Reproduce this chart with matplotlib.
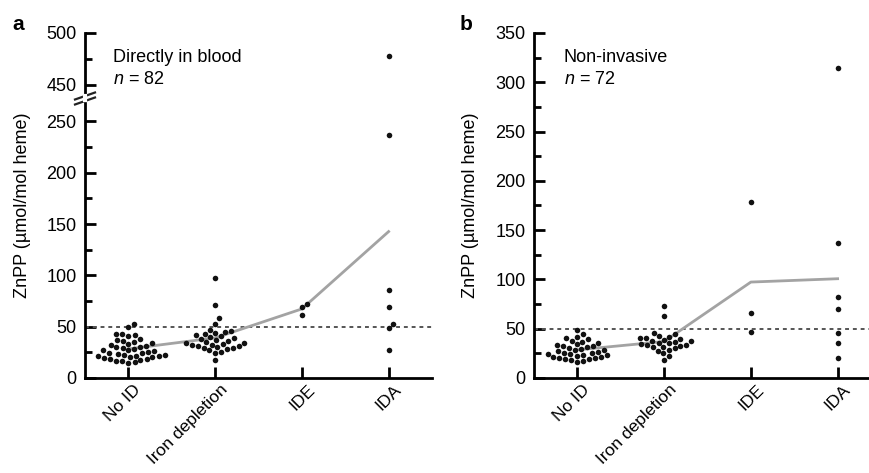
import numpy as np
import matplotlib
matplotlib.use("Agg")
import matplotlib.pyplot as plt
from matplotlib.lines import Line2D
from matplotlib.transforms import ScaledTranslation

plt.rcParams["font.family"] = ["Liberation Sans", "DejaVu Sans"]
plt.rcParams["mathtext.fontset"] = "custom"
plt.rcParams["mathtext.it"] = "Liberation Sans:italic"
plt.rcParams["mathtext.rm"] = "Liberation Sans"

categories = ["No ID", "Iron depletion", "IDE", "IDA"]

# ZnPP measured directly in blood (n = 82)
blood_no_id = [52.5, 50.0, 43.0, 42.5, 41.8, 41.0, 38.2, 37.0, 36.1, 35.4, 34.0, 33.2, 32.5,
               31.4, 30.6, 29.8, 29.0, 28.4, 27.6, 27.0, 26.2, 25.5, 24.8, 24.0, 23.2, 22.6,
               22.2, 21.9, 21.6, 21.2, 20.8, 20.4, 19.8, 19.0, 18.2, 17.5, 17.0, 16.4, 15.8,
               15.0]
blood_iron_depletion = [97.0, 71.0, 58.0, 53.0, 47.0, 45.8, 45.0, 43.8, 42.6, 41.8, 40.8, 40.0,
                        38.9, 38.0, 37.1, 36.2, 35.2, 34.4, 33.8, 33.2, 32.6, 32.0, 31.4, 30.8,
                        30.2, 29.6, 29.0, 28.0, 27.0, 25.0, 24.6, 18.0]
blood_ide = [72, 61, 69]
blood_ida = [478, 237, 86, 69, 49, 53, 27]

# ZnPP measured non-invasively (n = 72)
noninv_no_id = [49.0, 45.0, 42.0, 40.4, 39.2, 38.0, 36.4, 35.2, 34.2, 33.4, 32.8, 32.0, 31.0,
                30.2, 29.4, 28.6, 28.0, 27.2, 26.4, 25.8, 25.2, 24.6, 24.0, 23.4, 23.0, 22.4,
                21.8, 21.2, 20.6, 20.0, 19.4, 18.8, 18.0, 17.0, 16.0]
noninv_iron_depletion = [73.0, 63.0, 46.0, 44.2, 43.0, 42.0, 41.0, 40.4, 39.6, 38.8, 38.0, 37.2,
                         36.4, 35.6, 35.0, 34.2, 33.6, 33.0, 32.4, 31.8, 31.0, 30.0, 28.4, 27.0,
                         25.0, 22.0, 18.0]
noninv_ide = [179, 66, 47]
noninv_ida = [314, 137, 82, 70, 46, 36, 20]

cutoff = 50

W, H = 870, 473
fig = plt.figure(figsize=(W / 100, H / 100), dpi=100)


def px_rect(left, top, right, bottom):
    return [left / W, 1 - bottom / H, (right - left) / W, (bottom - top) / H]


def fx(x):
    return x / W


def fy(y):
    return 1 - y / H


SPINE_LW = 2.0
POINT_COLOR = "#111111"
MEAN_COLOR = "#a3a3a3"
DASH_COLOR = "#555555"
FS = 13
XFS = 12.5


def style_axes(ax, bottom=True):
    for side in ("top", "right"):
        ax.spines[side].set_visible(False)
    ax.spines["left"].set_linewidth(SPINE_LW)
    ax.spines["bottom"].set_linewidth(SPINE_LW)
    if not bottom:
        ax.spines["bottom"].set_visible(False)
    ax.tick_params(axis="y", which="major", direction="in", length=8, width=SPINE_LW,
                   labelsize=FS, pad=6)
    ax.tick_params(axis="y", which="minor", direction="in", length=5, width=SPINE_LW)
    ax.tick_params(axis="x", which="major", direction="in", length=8, width=SPINE_LW,
                   labelsize=XFS, pad=3)
    ax.set_xlim(-0.5, 3.5)
    ax.patch.set_alpha(0)


def set_category_labels(ax):
    ax.set_xticks(range(len(categories)))
    ax.set_xticklabels(categories, rotation=45, ha="right", va="top", rotation_mode="anchor")
    shift = ScaledTranslation(5 / 100, 0, fig.dpi_scale_trans)
    for lab in ax.get_xticklabels():
        lab.set_transform(lab.get_transform() + shift)


def swarm_x(ax, center, values, d=6.2):
    """Beeswarm layout computed in display pixels, returned in data x."""
    values = np.asarray(values, dtype=float)
    n = len(values)
    pts = ax.transData.transform(np.column_stack([np.full(n, center), values]))
    y = pts[:, 1]
    x_unit = (ax.transData.transform([[center + 1, 0]])[0, 0]
              - ax.transData.transform([[center, 0]])[0, 0])
    placed = []
    xs = np.zeros(n)
    for i in np.argsort(y):
        cands = [0.0]
        for px, py in placed:
            dy = y[i] - py
            if abs(dy) < d:
                dx = np.sqrt(d * d - dy * dy)
                cands += [px + dx, px - dx]
        cands.sort(key=abs)
        for c in cands:
            if all((c - px) ** 2 + (y[i] - py) ** 2 >= d * d - 1e-6 for px, py in placed):
                break
        placed.append((c, y[i]))
        xs[i] = c
    return center + xs / x_unit


def draw_groups(ax_list, groups, val_ranges):
    # each point goes to the axes whose y-range contains it
    for k, vals in enumerate(groups):
        vals = np.asarray(vals, dtype=float)
        for ax, (lo, hi) in zip(ax_list, val_ranges):
            sel = (vals >= lo) & (vals <= hi)
            if sel.any():
                xs = swarm_x(ax, k, vals[sel])
                ax.scatter(xs, vals[sel], s=16, color=POINT_COLOR, linewidths=0, zorder=4,
                           clip_on=False)


# ---------------- panel a: broken y axis ----------------
ax_lo = fig.add_axes(px_rect(85, 103, 432, 378))
ax_hi = fig.add_axes(px_rect(85, 33, 432, 95))
ax_lo.set_ylim(0, 268)
ax_hi.set_ylim(440, 500)
style_axes(ax_lo)
style_axes(ax_hi, bottom=False)
ax_lo.set_yticks(np.arange(0, 251, 50))
ax_lo.set_yticks(np.arange(25, 251, 50), minor=True)
ax_hi.set_yticks([450, 500])
ax_hi.set_yticks([475], minor=True)
ax_hi.set_xticks([])
set_category_labels(ax_lo)

groups_a = [blood_no_id, blood_iron_depletion, blood_ide, blood_ida]
draw_groups([ax_lo, ax_hi], groups_a, [(0, 268), (440, 500)])
ax_lo.plot(range(4), [np.mean(g) for g in groups_a], color=MEAN_COLOR, lw=2, zorder=3)
ax_lo.axhline(cutoff, color=DASH_COLOR, lw=1.4, ls=(0, (2, 2)), zorder=2)

fig.text(fx(113), fy(62), "Directly in blood", fontsize=FS, va="baseline")
fig.text(fx(113), fy(83.5), "$\\it{n}$ = 82", fontsize=FS, va="baseline")

# break marks across the spine
for yy in (96, 101):
    fig.add_artist(Line2D([fx(75), fx(95)], [fy(yy + 3.5), fy(yy - 3.5)],
                          transform=fig.transFigure, color="#222222", lw=1.6))
fig.add_artist(Line2D([fx(85), fx(85)], [fy(100.5), fy(96.5)],
                      transform=fig.transFigure, color="white", lw=3))

fig.text(fx(23), fy(205), "ZnPP (µmol/mol heme)", rotation=90, ha="center", va="center",
         fontsize=FS)
fig.text(fx(18), fy(25), "a", fontsize=15, fontweight="bold", ha="center", va="center")

# ---------------- panel b ----------------
ax_b = fig.add_axes(px_rect(534, 33, 881, 378))
ax_b.set_ylim(0, 350)
style_axes(ax_b)
ax_b.set_yticks(np.arange(0, 351, 50))
ax_b.set_yticks(np.arange(25, 351, 50), minor=True)
set_category_labels(ax_b)

groups_b = [noninv_no_id, noninv_iron_depletion, noninv_ide, noninv_ida]
draw_groups([ax_b], groups_b, [(0, 350)])
ax_b.plot(range(4), [np.mean(g) for g in groups_b], color=MEAN_COLOR, lw=2, zorder=3)
ax_b.axhline(cutoff, color=DASH_COLOR, lw=1.4, ls=(0, (2, 2)), zorder=2)

fig.text(fx(564), fy(62), "Non-invasive", fontsize=FS, va="baseline")
fig.text(fx(564), fy(83.5), "$\\it{n}$ = 72", fontsize=FS, va="baseline")

fig.text(fx(471), fy(205), "ZnPP (µmol/mol heme)", rotation=90, ha="center", va="center",
         fontsize=FS)
fig.text(fx(466), fy(25), "b", fontsize=15, fontweight="bold", ha="center", va="center")

fig.savefig("out.png", dpi=100)
